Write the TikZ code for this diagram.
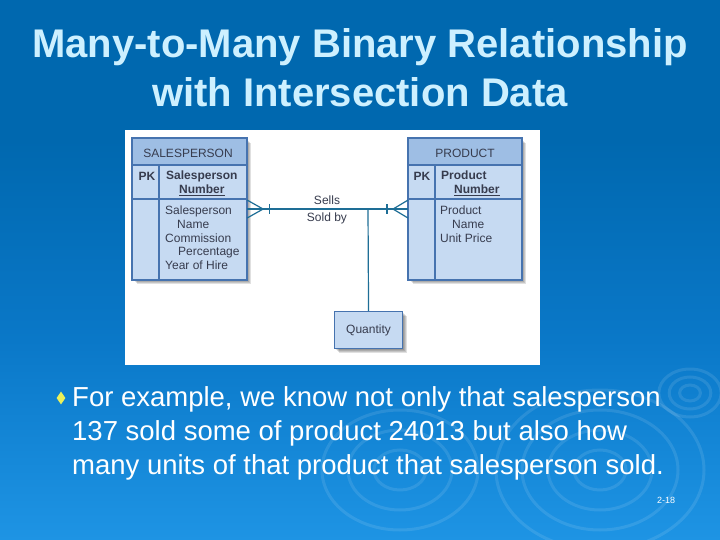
\documentclass[tikz,border=0pt]{standalone}
\usepackage{fontspec}
\setmainfont{Liberation Sans}
\usetikzlibrary{calc,shapes.geometric}
\definecolor{bgtop}{RGB}{0,104,175}
\definecolor{bgmid}{RGB}{10,120,200}
\definecolor{bgbot}{RGB}{30,148,228}
\definecolor{titlec}{RGB}{205,240,255}
\definecolor{boxfill}{RGB}{198,218,242}
\definecolor{headfill}{RGB}{158,190,228}
\definecolor{boxedge}{RGB}{70,115,175}
\definecolor{linec}{RGB}{30,110,150}
\definecolor{txtc}{RGB}{55,60,78}
\definecolor{bullc}{RGB}{235,240,90}
\tikzset{
  entity/.style={draw=boxedge, line width=1.1pt, fill=boxfill, inner sep=0pt, anchor=north west},
  small/.style={font=\fontsize{12}{13.6}\selectfont, text=txtc, inner sep=0pt},
  smallbold/.style={font=\fontsize{12}{13.6}\selectfont\bfseries, text=txtc, inner sep=0pt},
  rel/.style={draw=linec, line width=1.2pt},
  shadowbox/.style={fill=black, opacity=0.12},
  bodytext/.style={font=\fontsize{27.5}{34}\selectfont, text=white, inner sep=0pt, anchor=base west},
  titletext/.style={font=\fontsize{40}{48}\selectfont\bfseries, text=titlec, anchor=base, inner sep=0pt},
  ripple/.style={draw=white, opacity=0.10, line width=3pt}
}
\begin{document}
\begin{tikzpicture}[x=1pt,y=-1pt]
\useasboundingbox (0,0) rectangle (720,540);
\fill[bgtop] (0,0) rectangle (720,140);
\shade[top color=bgtop, bottom color=bgbot, middle color=bgmid] (0,139) rectangle (720,540);
% ripples
\foreach \r in {8,16,24} \draw[ripple] (690,393) ellipse ({\r*1.3} and \r);
\foreach \r in {20,40,60,80} \draw[ripple] (600,470) ellipse ({\r*1.3} and \r);
\foreach \r in {20,40,60} \draw[ripple] (400,470) ellipse ({\r*1.3} and \r);
% title
\node[titletext] (t1) at (360,58) {Many-to-Many Binary Relationship};
\node[titletext] (t2) at (360,107) {with Intersection Data};
% white panel
\fill[white] (125,130) rectangle (540,365);
% shadows
\foreach \d in {2,3,4,5}{
  \fill[shadowbox] (132+\d,138+\d) rectangle (246+\d,279+\d);
  \fill[shadowbox] (408+\d,138+\d) rectangle (521+\d,279+\d);
  \fill[shadowbox] (334+\d,311+\d) rectangle (402+\d,348+\d);
}
% entities
\node[entity, minimum width=114pt, minimum height=141pt] (sp) at (132,138) {};
\node[entity, minimum width=113pt, minimum height=141pt] (pr) at (408,138) {};
\fill[headfill] (132.5,138.5) rectangle (245.5,165);
\fill[headfill] (408.5,138.5) rectangle (520.5,165);
\draw[boxedge, line width=1.1pt] (132,165) -- (246,165) (132,199) -- (246,199) (159,165) -- (159,279);
\draw[boxedge, line width=1.1pt] (408,165) -- (521,165) (408,199) -- (521,199) (435,165) -- (435,279);
\draw[boxedge, line width=1.1pt] (sp.north west) rectangle (sp.south east);
\draw[boxedge, line width=1.1pt] (pr.north west) rectangle (pr.south east);
% texts
\node[small] (sph) at (188,153) {SALESPERSON};
\node[small] (prh) at (465,153) {PRODUCT};
\node[smallbold] (pk1) at (147,176) {PK};
\node[smallbold] (pk2) at (422,176) {PK};
\node[smallbold, align=left, anchor=north west] (spk) at (166,171) {Salesperson\\\hspace*{13pt}\underline{Number}};
\node[smallbold, align=left, anchor=north west] (ppk) at (441,171) {Product\\\hspace*{13pt}\underline{Number}};
\node[small, align=left, anchor=north west] (spa) at (165,206) {Salesperson\\\hspace*{12pt}Name\\Commission\\\hspace*{13pt}Percentage\\Year of Hire};
\node[small, align=left, anchor=north west] (pra) at (440,206) {Product\\\hspace*{12pt}Name\\Unit Price};
% relationship
\node[entity, minimum width=68pt, minimum height=37pt] (qt) at (334,311) {};
\node[small] (qtl) at (qt.center) {Quantity};
\coordinate (j) at (368,208.5);
\draw[rel] (sp.east) -- (pr.west);
\draw[rel] (j) -- (qt.north);
\draw[rel] ($(sp.east)+(0,-9)$) -- ($(sp.east)+(16,0)$) -- ($(sp.east)+(0,9)$);
\draw[rel] ($(sp.east)+(22,-5)$) -- ($(sp.east)+(22,5)$);
\draw[rel] ($(pr.west)+(0,-9)$) -- ($(pr.west)+(-15,0)$) -- ($(pr.west)+(0,9)$);
\draw[rel] ($(pr.west)+(-21,-5)$) -- ($(pr.west)+(-21,5)$);
\node[small] (sells) at (327,200) {Sells};
\node[small] (soldby) at (327,218) {Sold by};
% bullet text
\node[diamond, fill=bullc, inner sep=0pt, minimum width=9pt, minimum height=13pt] (bul) at (61,398) {};
\node[bodytext] (l1) at (72,406) {For example, we know not only that salesperson};
\node[bodytext] (l2) at (72,440) {137 sold some of product 24013 but also how};
\node[bodytext] (l3) at (72,474) {many units of that product that salesperson sold.};
\node[font=\fontsize{9}{10}\selectfont, text=white, inner sep=0pt] (pg) at (666,500) {2-18};
\end{tikzpicture}
\end{document}
